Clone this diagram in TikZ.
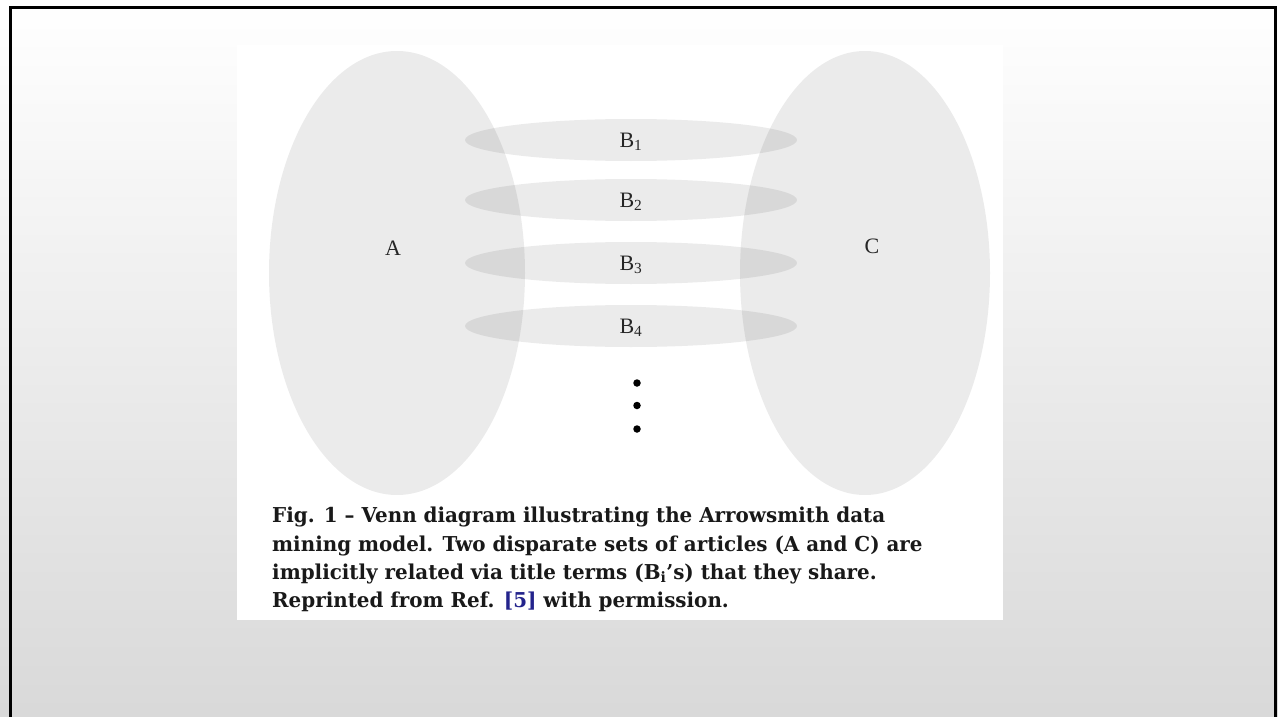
\documentclass[tikz,border=0pt]{standalone}
\usepackage{fontspec}
\setmainfont{Liberation Serif}
\newfontfamily\capfont[FakeStretch=0.97]{DejaVu Serif}
\usetikzlibrary{shapes.geometric}
\definecolor{refblue}{RGB}{35,35,140}
\tikzset{
  bigset/.style={ellipse, fill=black, fill opacity=0.08, draw=none, inner sep=0pt},
  bset/.style={ellipse, fill=black, fill opacity=0.08, draw=none, inner sep=0pt, minimum width=332pt, minimum height=42pt},
  setlabel/.style={font=\fontsize{22}{24}\selectfont, text=black!85, inner sep=0pt},
  dotmark/.style={circle, fill=black, inner sep=0pt, minimum size=7.5pt},
  capline/.style={anchor=base west, inner sep=0pt, font=\capfont\bfseries\fontsize{20.5}{24}\selectfont, text=black!90}
}
\begin{document}
\begin{tikzpicture}[x=1pt, y=-1pt]
\useasboundingbox (0,0) rectangle (1278,717);
\shade[top color=white, bottom color=black!15] (0,0) rectangle (1278,717);
\fill[white] (237,45) rectangle (1003,620);
\draw[line width=3pt] (10,730) -- (10,7.5) -- (1275,7.5) -- (1275,730);
% sets
\node[bigset, minimum width=256pt, minimum height=444pt] (A) at (397,273) {};
\node[bigset, minimum width=250pt, minimum height=444pt] (C) at (865,273) {};
\node[bset] (B1) at (631,140) {};
\node[bset] (B2) at (631,200) {};
\node[bset] (B3) at (631,263) {};
\node[bset] (B4) at (631,326) {};
% labels
\node[setlabel] (lA) at (393,248) {A};
\node[setlabel] (lC) at (872,246) {C};
\node[setlabel] (lB1) at (631,142) {B\textsubscript{1}};
\node[setlabel] (lB2) at (631,202) {B\textsubscript{2}};
\node[setlabel] (lB3) at (631,265) {B\textsubscript{3}};
\node[setlabel] (lB4) at (631,328) {B\textsubscript{4}};
% dots
\node[dotmark] (d1) at (637,383) {};
\node[dotmark] (d2) at (637,405.5) {};
\node[dotmark] (d3) at (637,429) {};
% caption
\node[capline] (c1) at (272,522) {Fig. 1 – Venn diagram illustrating the Arrowsmith data};
\node[capline] (c2) at (272,551) {mining model. Two disparate sets of articles (A and C) are};
\node[capline] (c3) at (272,579) {implicitly related via title terms (B\textsubscript{i}’s) that they share.};
\node[capline] (c4) at (272,607) {Reprinted from Ref. \textcolor{refblue}{[5]} with permission.};
\end{tikzpicture}
\end{document}
